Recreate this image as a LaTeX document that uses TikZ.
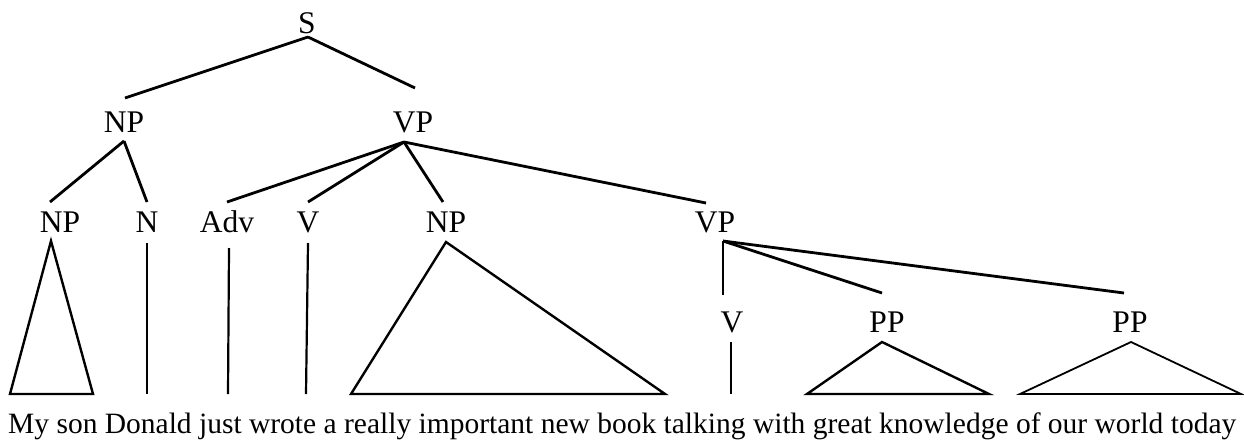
\documentclass[tikz,border=0pt]{standalone}
\usepackage{fontspec}
\setmainfont{Liberation Serif}
\begin{document}
\begin{tikzpicture}[x=1pt,y=-1pt,
  lbl/.style={inner sep=0pt,anchor=base,font=\fontsize{31.5}{38}\selectfont},
  words/.style={inner sep=0pt,anchor=base west,font=\fontsize{29.5}{35}\selectfont},
  branch/.style={line width=2.8pt},
  leaf/.style={line width=2.2pt},
  roof/.style={line width=2.4pt,line join=miter},
  thinroof/.style={line width=1.8pt,line join=miter}]
\useasboundingbox (0,0) rectangle (1244,439);

% category labels
\node[lbl] (S)   at (307,33)  {S};
\node[lbl] (NPa) at (124,132) {NP};
\node[lbl] (VPa) at (413,132) {VP};
\node[lbl] (NPb) at (60,232)  {NP};
\node[lbl] (N)   at (147,232) {N};
\node[lbl] (Adv) at (227,232) {Adv};
\node[lbl] (Va)  at (308,232) {V};
\node[lbl] (NPc) at (446,232) {NP};
\node[lbl] (VPb) at (715,232) {VP};
\node[lbl] (Vb)  at (732,332) {V};
\node[lbl] (PPa) at (887,332) {PP};
\node[lbl] (PPb) at (1130,332) {PP};

% the sentence
\node[words] (sent) at (8,433)
  {My son Donald just wrote a really important new book talking with great knowledge of our world today};

% branch end points
\coordinate (S-dn)   at (308,37);
\coordinate (NPa-up) at (125,98);
\coordinate (NPa-dn) at (124,141);
\coordinate (VPa-up) at (415,88);
\coordinate (VPa-dn) at (404,142);
\coordinate (NPb-up) at (50,202);
\coordinate (N-up)   at (147,202);
\coordinate (Adv-up) at (227,202);
\coordinate (Va-up)  at (308,202);
\coordinate (NPc-up) at (443,202);
\coordinate (VPb-up) at (706,203);
\coordinate (VPb-dn) at (723,241);
\coordinate (Vb-up)  at (723,295);
\coordinate (PPa-up) at (882,293);
\coordinate (PPb-up) at (1124,293);

% leaf lines and roofs
\coordinate (NPb-dn) at (51,241);
\coordinate (NPb-l)  at (10,394);
\coordinate (NPb-r)  at (93,394);
\coordinate (N-dn)   at (147,243);
\coordinate (N-w)    at (147,394);
\coordinate (Adv-dn) at (229,248);
\coordinate (Adv-w)  at (228,394);
\coordinate (Va-dn)  at (308,243);
\coordinate (Va-w)   at (306,394);
\coordinate (NPc-dn) at (446,242);
\coordinate (NPc-l)  at (351,394);
\coordinate (NPc-r)  at (665,394);
\coordinate (Vb-dn)  at (731,342);
\coordinate (Vb-w)   at (731,394);
\coordinate (PPa-dn) at (882,342);
\coordinate (PPa-l)  at (807,394);
\coordinate (PPa-r)  at (989,394);
\coordinate (PPb-dn) at (1131,342);
\coordinate (PPb-l)  at (1020,394);
\coordinate (PPb-r)  at (1241,394);

% tree branches
\draw[branch] (S-dn) -- (NPa-up);
\draw[branch] (S-dn) -- (VPa-up);
\draw[branch] (NPa-dn) -- (NPb-up);
\draw[branch] (NPa-dn) -- (N-up);
\draw[branch] (VPa-dn) -- (Adv-up);
\draw[branch] (VPa-dn) -- (Va-up);
\draw[branch] (VPa-dn) -- (NPc-up);
\draw[branch] (VPa-dn) -- (VPb-up);
\draw[branch] (VPb-dn) -- (Vb-up);
\draw[branch] (VPb-dn) -- (PPa-up);
\draw[branch] (VPb-dn) -- (PPb-up);

% leaves
\draw[roof] (NPb-dn) -- (NPb-l) -- (NPb-r) -- cycle;
\draw[leaf] (N-dn) -- (N-w);
\draw[leaf] (Adv-dn) -- (Adv-w);
\draw[leaf] (Va-dn) -- (Va-w);
\draw[roof] (NPc-dn) -- (NPc-l) -- (NPc-r) -- cycle;
\draw[branch] (Vb-dn) -- (Vb-w);
\draw[roof] (PPa-dn) -- (PPa-l) -- (PPa-r) -- cycle;
\draw[thinroof] (PPb-dn) -- (PPb-l) -- (PPb-r) -- cycle;
\end{tikzpicture}
\end{document}
